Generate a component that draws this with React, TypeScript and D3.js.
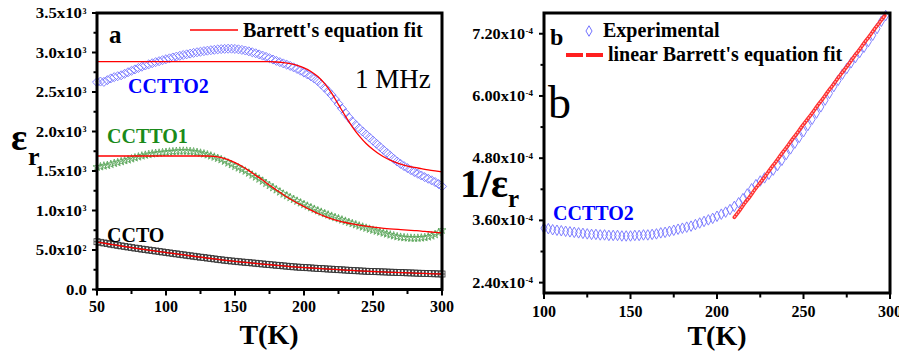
import * as d3 from "d3";

const FONT = "'Liberation Serif', 'Times New Roman', serif";

// panel a: dielectric constant vs temperature
const TEMPS_A = [
  50, 52.5, 55, 57.5, 60, 62.5, 65, 67.5, 70, 72.5, 75, 77.5, 80, 82.5, 85, 87.5, 90, 92.5, 95, 97.5,
  100, 102.5, 105, 107.5, 110, 112.5, 115, 117.5, 120, 122.5, 125, 127.5, 130, 132.5, 135, 137.5, 140, 142.5, 145, 147.5,
  150, 152.5, 155, 157.5, 160, 162.5, 165, 167.5, 170, 172.5, 175, 177.5, 180, 182.5, 185, 187.5, 190, 192.5, 195, 197.5,
  200, 202.5, 205, 207.5, 210, 212.5, 215, 217.5, 220, 222.5, 225, 227.5, 230, 232.5, 235, 237.5, 240, 242.5, 245, 247.5,
  250, 252.5, 255, 257.5, 260, 262.5, 265, 267.5, 270, 272.5, 275, 277.5, 280, 282.5, 285, 287.5, 290, 292.5, 295, 297.5,
  300,
];

const CCTTO2 = [
  2625, 2632, 2628, 2650, 2672, 2688, 2700, 2712, 2730, 2750, 2768, 2786, 2804, 2820, 2836, 2850, 2864, 2878, 2890, 2903,
  2915, 2926, 2937, 2948, 2958, 2968, 2977, 2986, 2995, 3003, 3010, 3017, 3023, 3029, 3034, 3039, 3043, 3046, 3048, 3048,
  3045, 3040, 3033, 3025, 3015, 3003, 2990, 2976, 2961, 2945, 2928, 2911, 2894, 2878, 2862, 2846, 2830, 2812, 2792, 2770,
  2746, 2722, 2698, 2670, 2638, 2598, 2555, 2510, 2462, 2408, 2350, 2290, 2232, 2177, 2126, 2082, 2040, 2000, 1962, 1923,
  1884, 1845, 1806, 1768, 1730, 1693, 1655, 1620, 1590, 1562, 1536, 1511, 1487, 1465, 1443, 1422, 1402, 1382, 1360, 1335,
  1305,
];

const CCTTO1 = [
  1550, 1555, 1565, 1572, 1585, 1598, 1608, 1620, 1632, 1642, 1655, 1668, 1680, 1692, 1702, 1710, 1718, 1724, 1728, 1733,
  1738, 1742, 1746, 1750, 1752, 1753, 1752, 1749, 1744, 1737, 1728, 1718, 1706, 1692, 1677, 1662, 1645, 1625, 1603, 1582,
  1560, 1540, 1520, 1500, 1475, 1450, 1425, 1400, 1373, 1345, 1318, 1290, 1263, 1236, 1210, 1188, 1165, 1142, 1120, 1098,
  1077, 1057, 1037, 1017, 998, 980, 962, 945, 929, 913, 897, 882, 866, 851, 836, 821, 806, 792, 778, 765,
  752, 740, 728, 716, 704, 692, 681, 670, 663, 658, 654, 651, 650, 651, 654, 659, 667, 679, 696, 720,
  752,
];

const CCTO = [
  605, 597, 589, 581, 573, 566, 559, 552, 545, 538, 531, 524, 518, 511, 505, 499, 493, 487, 481, 475,
  469, 463, 457, 451, 445, 439, 433, 427, 421, 415, 409, 404, 398, 392, 387, 381, 376, 370, 365, 361,
  357, 352, 348, 344, 340, 336, 332, 327, 323, 319, 315, 311, 307, 303, 299, 295, 291, 287, 284, 281,
  278, 276, 273, 270, 267, 265, 262, 259, 257, 254, 251, 249, 246, 243, 241, 238, 236, 233, 231, 229,
  228, 226, 224, 223, 221, 219, 218, 216, 215, 213, 211, 210, 208, 206, 205, 203, 202, 200, 199, 197,
  196,
];

// Barrett's equation fits
const TEMPS_FIT = [
  50, 55, 60, 65, 70, 75, 80, 85, 90, 95, 100, 105, 110, 115, 120, 125, 130, 135, 140, 145, 150, 155, 160, 165, 170, 175,
  180, 185, 190, 195, 200, 205, 210, 215, 220, 225, 230, 235, 240, 245, 250, 255, 260, 265, 270, 275, 280, 285, 290, 295, 300,
];
const FIT_CCTTO2 = [
  2885, 2885, 2885, 2885, 2885, 2885, 2885, 2885, 2885, 2885, 2885, 2885, 2885, 2885, 2885, 2885, 2885, 2885, 2885, 2885,
  2885, 2885, 2885, 2885, 2885, 2884, 2880, 2872, 2858, 2836, 2805, 2760, 2695, 2605, 2485, 2340, 2195, 2060, 1945, 1848,
  1772, 1708, 1658, 1618, 1587, 1563, 1545, 1530, 1515, 1502, 1490,
];
const FIT_CCTTO1 = [
  1690, 1690, 1690, 1690, 1690, 1690, 1690, 1690, 1690, 1690, 1690, 1690, 1690, 1690, 1690, 1690, 1690, 1685, 1670, 1645,
  1605, 1560, 1505, 1445, 1385, 1320, 1260, 1200, 1145, 1095, 1050, 1005, 962, 925, 895, 870, 848, 830, 815, 802,
  790, 780, 771, 764, 758, 752, 746, 740, 731, 724, 718,
];
const FIT_CCTO = [
  600, 586, 572, 558, 544, 530, 517, 504, 492, 480, 468, 456, 445, 433, 421, 409, 398, 387, 376, 366,
  356, 347, 339, 330, 322, 314, 306, 298, 290, 284, 278, 272, 267, 261, 256, 251, 246, 241, 236, 232,
  228, 224, 220, 217, 214, 211, 208, 205, 202, 199, 196,
];

// panel b: 1/eps_r (x1e-4) of CCTTO2
const TEMPS_B = [
  100, 102.5, 105, 107.5, 110, 112.5, 115, 117.5, 120, 122.5, 125, 127.5, 130, 132.5, 135, 137.5, 140, 142.5, 145, 147.5,
  150, 152.5, 155, 157.5, 160, 162.5, 165, 167.5, 170, 172.5, 175, 177.5, 180, 182.5, 185, 187.5, 190, 192.5, 195, 197.5,
  200, 202.5, 205, 207.5, 210, 212.5, 215, 217.5, 220, 222.5, 225, 227.5, 230, 232.5, 235, 237.5, 240, 242.5, 245, 247.5,
  250, 252.5, 255, 257.5, 260, 262.5, 265, 267.5, 270, 272.5, 275, 277.5, 280, 282.5, 285, 287.5, 290, 292.5, 295, 297.5,
];
const INV_CCTTO2 = [
  3.45, 3.44, 3.42, 3.41, 3.4, 3.39, 3.38, 3.37, 3.36, 3.35, 3.34, 3.33, 3.33, 3.32, 3.32, 3.31, 3.31, 3.31, 3.3, 3.3,
  3.3, 3.31, 3.31, 3.32, 3.32, 3.33, 3.34, 3.36, 3.37, 3.39, 3.41, 3.43, 3.45, 3.47, 3.49, 3.52, 3.55, 3.58, 3.61, 3.64,
  3.68, 3.72, 3.76, 3.81, 3.87, 3.94, 4.02, 4.11, 4.21, 4.29, 4.36, 4.42, 4.49, 4.57, 4.66, 4.76, 4.87, 4.98, 5.09, 5.2,
  5.31, 5.43, 5.55, 5.67, 5.79, 5.92, 6.05, 6.18, 6.3, 6.42, 6.53, 6.64, 6.74, 6.84, 6.94, 7.05, 7.17, 7.3, 7.44, 7.55,
];
const TEMPS_FIT_B = [210, 213, 216, 219, 222, 225, 228, 231, 234, 237, 240, 243, 246, 249, 252, 255, 258, 261, 264, 267, 270, 273, 276, 279, 282, 285, 288, 291, 294, 297];
const FIT_INV = [
  3.66, 3.79, 3.93, 4.06, 4.2, 4.33, 4.46, 4.6, 4.73, 4.87, 5.0, 5.14, 5.27, 5.41, 5.54, 5.67, 5.81, 5.94, 6.08, 6.21,
  6.35, 6.48, 6.61, 6.75, 6.88, 7.02, 7.15, 7.29, 7.42, 7.55,
];

// ticks
const A_X_MAJOR = [50, 100, 150, 200, 250, 300];
const A_X_MINOR = [75, 125, 175, 225, 275];
const A_Y_MAJOR = [0, 500, 1000, 1500, 2000, 2500, 3000, 3500];
const A_Y_MINOR = [250, 750, 1250, 1750, 2250, 2750, 3250];
const A_Y_MANT = ["0.0", "5.0x10", "1.0x10", "1.5x10", "2.0x10", "2.5x10", "3.0x10", "3.5x10"];
const A_Y_EXP = ["", "2", "3", "3", "3", "3", "3", "3"];
const B_X_MAJOR = [100, 150, 200, 250, 300];
const B_X_MINOR = [125, 175, 225, 275];
const B_Y_MAJOR = [2.4, 3.6, 4.8, 6.0, 7.2];
const B_Y_MINOR = [3.0, 4.2, 5.4, 6.6];
const B_Y_MANT = ["2.40x10", "3.60x10", "4.80x10", "6.00x10", "7.20x10"];
const B_Y_EXP = "-4";

const xA = d3.scaleLinear().domain([50, 300]).range([97, 442]);
const yA = d3.scaleLinear().domain([0, 3500]).range([289.5, 13]);
const xB = d3.scaleLinear().domain([100, 300]).range([544, 890]);
const yB = d3.scaleLinear().domain([2.2, 7.6]).range([293, 13]);

const diamondA = d3.symbol().type((d3 as any).symbolDiamond2 || d3.symbolDiamond).size(52)()!;
const diamondB = d3.symbol().type(d3.symbolDiamond).size(32)()!;
const star = d3.symbol().type(d3.symbolStar).size(20)()!;

function fitLine(xs: number[], ys: number[], x: any, y: any) {
  return d3
    .line<number>()
    .x((_, i) => x(xs[i]))
    .y((d) => y(d))
    .curve(d3.curveMonotoneX)(ys)!;
}

function Panel({ x, y, xMajor, xMinor, yMajor, yMinor, labelY }: any) {
  const [x0, x1] = x.range();
  const [y0, y1] = y.range();
  return (
    <g>
      {xMajor.map((v: number) => (
        <g key={"xm" + v}>
          <line x1={x(v)} x2={x(v)} y1={y0} y2={y0 + 6} stroke="#000" strokeWidth={2} />
          <text x={x(v)} y={labelY} textAnchor="middle" fontFamily={FONT} fontWeight="bold" fontSize={16}>
            {v}
          </text>
        </g>
      ))}
      {xMinor.map((v: number) => (
        <line key={"xn" + v} x1={x(v)} x2={x(v)} y1={y0} y2={y0 + 4.5} stroke="#000" strokeWidth={2} />
      ))}
      {yMajor.map((v: number) => (
        <line key={"ym" + v} x1={x0 - 5} x2={x0} y1={y(v)} y2={y(v)} stroke="#000" strokeWidth={2} />
      ))}
      {yMinor.map((v: number) => (
        <line key={"yn" + v} x1={x0 - 3.5} x2={x0} y1={y(v)} y2={y(v)} stroke="#000" strokeWidth={2} />
      ))}
      <rect x={x0} y={y1} width={x1 - x0} height={y0 - y1} fill="none" stroke="#000" strokeWidth={3} />
    </g>
  );
}

export default function App() {
  return (
    <svg width={899} height={356} style={{ position: "absolute", left: 0, top: 0, background: "#fff" }}>
      {/* panel a markers */}
      <g fill="none">
        {TEMPS_A.map((t, i) => (
          <path key={"b" + i} d={diamondA} transform={`translate(${xA(t)},${yA(CCTTO2[i])})`} stroke="#7373ff" strokeWidth={0.9} />
        ))}
        {TEMPS_A.map((t, i) => (
          <path key={"g" + i} d={star} transform={`translate(${xA(t)},${yA(CCTTO1[i])})`} stroke="#55a355" strokeWidth={0.8} />
        ))}
        {TEMPS_A.map((t, i) => {
          const cx = xA(t);
          const cy = yA(CCTO[i]);
          return (
            <g key={"k" + i} stroke="#333" strokeWidth={0.8}>
              <rect x={cx - 3} y={cy - 3} width={6} height={6} />
              <line x1={cx} x2={cx} y1={cy - 3} y2={cy + 3} />
              <line x1={cx - 3} x2={cx + 3} y1={cy} y2={cy} />
            </g>
          );
        })}
      </g>
      <g fill="none" stroke="#ff0000" strokeWidth={1.3}>
        <path d={fitLine(TEMPS_FIT, FIT_CCTTO2, xA, yA)} />
        <path d={fitLine(TEMPS_FIT, FIT_CCTTO1, xA, yA)} />
        <path d={fitLine(TEMPS_FIT, FIT_CCTO, xA, yA)} />
      </g>
      <Panel x={xA} y={yA} xMajor={A_X_MAJOR} xMinor={A_X_MINOR} yMajor={A_Y_MAJOR} yMinor={A_Y_MINOR} labelY={312} />
      {A_Y_MAJOR.map((v, i) => (
        <g key={"al" + v}>
          <g transform={`translate(${A_Y_EXP[i] ? 82 : 87},${yA(v) + 5}) scale(1.12,1)`}>
            <text textAnchor="end" fontFamily={FONT} fontWeight="bold" fontSize={15}>
              {A_Y_MANT[i]}
            </text>
          </g>
          {A_Y_EXP[i] && (
            <text x={82.5} y={yA(v) + 0.5} fontFamily={FONT} fontWeight="bold" fontSize={8}>
              {A_Y_EXP[i]}
            </text>
          )}
        </g>
      ))}

      {/* panel a texts */}
      <line x1={190} x2={238} y1={30} y2={30} stroke="#ff0000" strokeWidth={1.3} />
      <text x={243} y={37} fontFamily={FONT} fontWeight="bold" fontSize={20}>Barrett's equation fit</text>
      <text x={109} y={43} fontFamily={FONT} fontWeight="bold" fontSize={25}>a</text>
      <text x={355} y={88} fontFamily={FONT} fontSize={27}>1 MHz</text>
      <text x={128} y={93} fontFamily={FONT} fontWeight="bold" fontSize={20} fill="#0000ff">CCTTO2</text>
      <text x={107} y={143} fontFamily={FONT} fontWeight="bold" fontSize={20} fill="#1a8a1a">CCTTO1</text>
      <text x={107} y={242} fontFamily={FONT} fontWeight="bold" fontSize={20}>CCTO</text>
      <text x={11} y={150} fontFamily={FONT} fontWeight="bold" fontSize={38}>ε</text>
      <text x={28} y={165} fontFamily={FONT} fontWeight="bold" fontSize={26}>r</text>
      <text x={269} y={344} textAnchor="middle" fontFamily={FONT} fontWeight="bold" fontSize={28}>T(K)</text>

      {/* panel b */}
      <g fill="none">
        {TEMPS_B.map((t, i) => (
          <path key={"d" + i} d={diamondB} transform={`translate(${xB(t)},${yB(INV_CCTTO2[i])})`} stroke="#7373ff" strokeWidth={0.9} />
        ))}
        <path d={fitLine(TEMPS_FIT_B, FIT_INV, xB, yB)} stroke="#ff3030" strokeWidth={3.6} strokeLinecap="round" />
        <path d={fitLine(TEMPS_FIT_B, FIT_INV, xB, yB)} stroke="#ffc8c8" strokeWidth={1.2} strokeDasharray="1.6 1.4" />
      </g>
      <Panel x={xB} y={yB} xMajor={B_X_MAJOR} xMinor={B_X_MINOR} yMajor={B_Y_MAJOR} yMinor={B_Y_MINOR} labelY={317} />
      {B_Y_MAJOR.map((v, i) => (
        <g key={"bl" + v}>
          <g transform={`translate(525,${yB(v) + 5}) scale(1.08,1)`}>
            <text textAnchor="end" fontFamily={FONT} fontWeight="bold" fontSize={15}>
              {B_Y_MANT[i]}
            </text>
          </g>
          <text x={525.5} y={yB(v) + 0.5} fontFamily={FONT} fontWeight="bold" fontSize={9}>
            {B_Y_EXP}
          </text>
        </g>
      ))}
      <path d={diamondB} transform="translate(589,31)" fill="none" stroke="#7373ff" strokeWidth={1} />
      <text x={603} y={37} fontFamily={FONT} fontWeight="bold" fontSize={20}>Experimental</text>
      <line x1={566} x2={605} y1={55} y2={55} stroke="#ff2020" strokeWidth={4} strokeDasharray="17 3" />
      <text x={608} y={61} fontFamily={FONT} fontWeight="bold" fontSize={20}>linear Barrett's equation fit</text>
      <text x={550} y={45} fontFamily={FONT} fontWeight="bold" fontSize={24}>b</text>
      <text x={548} y={118} fontFamily={FONT} fontSize={46}>b</text>
      <text x={553} y={220} fontFamily={FONT} fontWeight="bold" fontSize={20} fill="#0000ff">CCTTO2</text>
      <text x={460} y={197} fontFamily={FONT} fontWeight="bold" fontSize={40}>1/ε</text>
      <text x={508} y={207} fontFamily={FONT} fontWeight="bold" fontSize={25}>r</text>
      <text x={717} y={345} textAnchor="middle" fontFamily={FONT} fontWeight="bold" fontSize={28}>T(K)</text>
    </svg>
  );
}
